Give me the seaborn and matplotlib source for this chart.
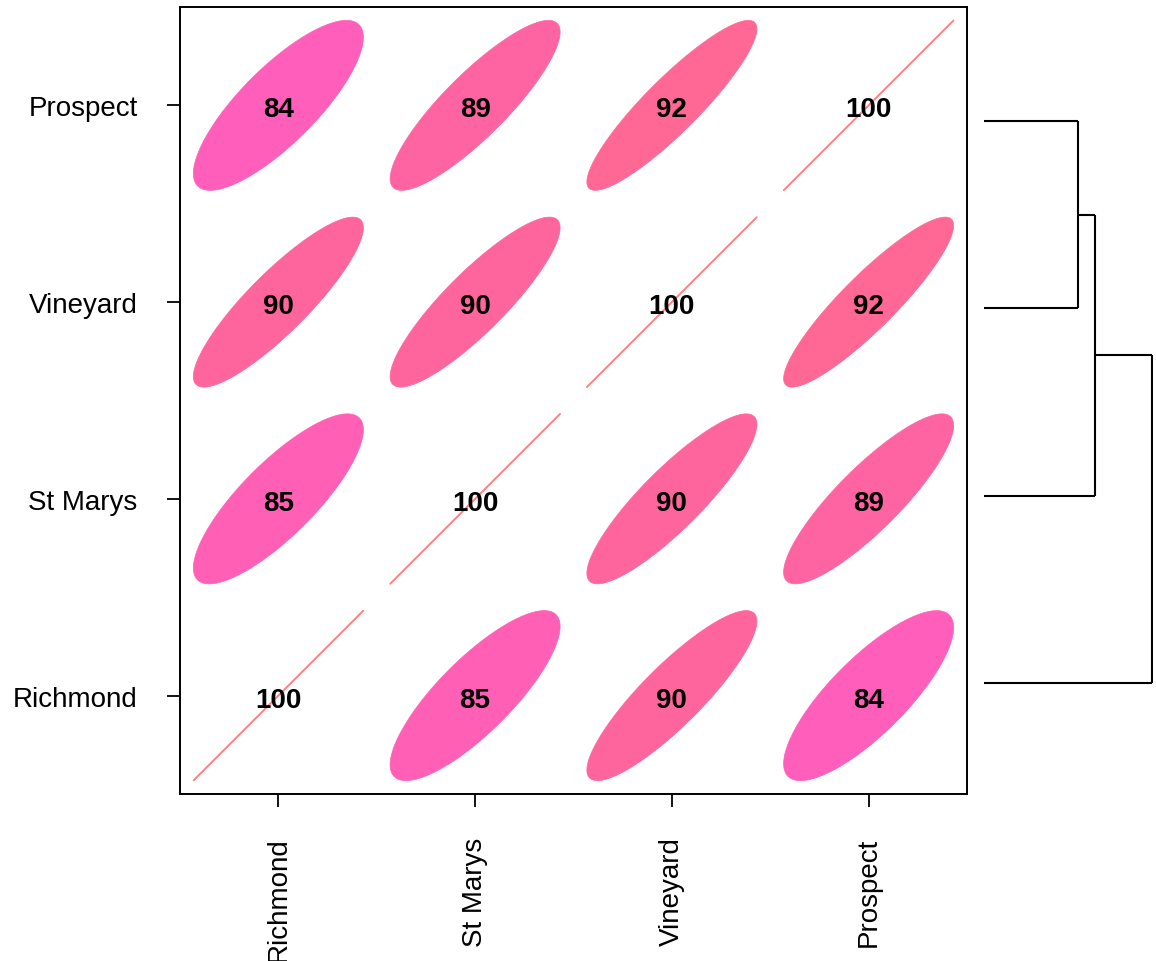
import numpy as np
import matplotlib
matplotlib.use("Agg")
import matplotlib.pyplot as plt
import seaborn as sns
from matplotlib.patches import Polygon
from matplotlib.colors import LinearSegmentedColormap

# ---- data ----
sites = ["Richmond", "St Marys", "Vineyard", "Prospect"]
corr_pct = [
    [100, 85, 90, 84],
    [85, 100, 90, 89],
    [90, 90, 100, 92],
    [84, 89, 92, 100],
]
# dendrogram (order top -> bottom: Prospect, Vineyard, St Marys, Richmond)
dendro_leaves = ["Prospect", "Vineyard", "St Marys", "Richmond"]
merge_pairs = [("Prospect", "Vineyard"), ("PV", "St Marys"), ("PVS", "Richmond")]
merge_names = ["PV", "PVS", "ALL"]
merge_heights = [0.080, 0.0945, 0.1438]

sns.set_theme(style="white")
plt.rcParams["font.family"] = ["Liberation Sans", "DejaVu Sans"]

fig = plt.figure(figsize=(11.56, 9.62), dpi=100)
ax = fig.add_axes([0.1557, 0.1736, 0.6808, 0.8181])

cmap = LinearSegmentedColormap.from_list("pinks", ["#FF5FBA", "#FF6794"])
vmin, vmax = 84, 92

n = len(sites)
t = np.linspace(0, 2 * np.pi, 240)
scale = 0.432
widen = 1.12   # visual width factor of the ellipses
for i in range(n):          # column (x)
    for j in range(n):      # row (y)
        r = corr_pct[i][j] / 100.0
        d = np.arccos(min(r, 1.0)) * widen
        ex = np.cos(t + d / 2) * scale + i + 0.5
        ey = np.cos(t - d / 2) * scale + j + 0.5
        if r >= 0.999:
            ax.plot(ex, ey, color="#FF7F7F", lw=0.9, zorder=2)
        else:
            col = cmap((corr_pct[i][j] - vmin) / (vmax - vmin))
            ax.add_patch(Polygon(np.column_stack([ex, ey]), closed=True,
                                 facecolor=col, edgecolor=col, lw=0.5, zorder=2))
        ax.text(i + 0.5, j + 0.48, f"{corr_pct[i][j]}", ha="center", va="center",
                fontsize=20, fontweight="bold", color="black", zorder=3,
                family=["Liberation Sans Narrow", "Liberation Sans", "DejaVu Sans"])

ax.set_xlim(0, n)
ax.set_ylim(0, n)
ax.set_xticks(np.arange(n) + 0.5)
ax.set_yticks(np.arange(n) + 0.5)
ax.set_xticklabels(sites, rotation=90, fontsize=20)
ax.set_yticklabels(sites, fontsize=20)
ax.tick_params(axis="both", direction="out", length=9.5, width=1.3, color="black",
               pad=21, bottom=True, left=True, labelcolor="black")
for s in ax.spines.values():
    s.set_color("black")
    s.set_linewidth(1.4)
    s.set_visible(True)

# ---- dendrogram ----
dax = fig.add_axes([0.8512, 0.1918, 0.1462, 0.7786])
ypos = {name: len(dendro_leaves) - 0.5 - k for k, name in enumerate(dendro_leaves)}
hpos = {name: 0.0 for name in dendro_leaves}
for (a, b), name, h in zip(merge_pairs, merge_names, merge_heights):
    ya, yb = ypos[a], ypos[b]
    kw = dict(color="black", lw=1.5, solid_capstyle="butt")
    dax.plot([hpos[a], h], [ya, ya], **kw)
    dax.plot([hpos[b], h], [yb, yb], **kw)
    dax.plot([h, h], [ya, yb], **kw)
    ypos[name] = (ya + yb) / 2
    hpos[name] = h
dax.set_xlim(0, merge_heights[-1] * 1.004)
dax.set_ylim(0, len(dendro_leaves))
dax.axis("off")

fig.savefig("out.png", dpi=100)
